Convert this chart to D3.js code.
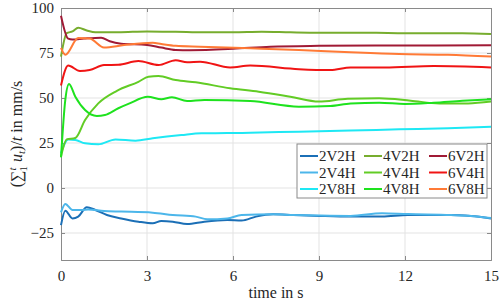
<!DOCTYPE html>
<html><head><meta charset="utf-8">
<script src="https://cdn.jsdelivr.net/npm/d3@7"></script>
<style>body{margin:0;background:#fff;}</style>
</head><body><svg id="c" width="500" height="303" font-family="Liberation Serif"></svg>
<script>
const seriesNames = ["2V2H","2V4H","2V8H","4V2H","4V4H","4V8H","6V2H","6V4H","6V8H"];
const seriesColors = ["#1b6fb6","#4cb6ea","#1ee8f4","#77ad2e","#62cc25","#1ee21e","#a01a35","#f01414","#ff7a36"];
const xTicks = [0,3,6,9,12,15];
const yTicks = [-25,0,25,50,75,100];

const s2V2H = [[0,-20.6],[0.15,-12.6],[0.4,-16.9],[0.6,-15.9],[0.9,-10.7],[1.2,-12.2],[1.6,-15],[2.1,-16.9],[2.7,-18.7],[3.2,-19.6],[3.5,-18.3],[3.9,-18.7],[4.4,-20],[5,-18.7],[5.8,-17.8],[6.3,-18.1],[6.8,-15.9],[7.4,-14.6],[8.1,-15],[9,-15.5],[10.1,-15.9],[11.2,-15.9],[12.1,-15],[13.6,-15],[14.3,-15.6],[15,-16.9]];
const s2V4H = [[0,-13.5],[0.15,-8.9],[0.4,-12.2],[0.73,-12.2],[0.95,-11.9],[1.5,-12.8],[2.1,-13.1],[3.2,-13.7],[3.9,-15],[4.7,-15.9],[5.1,-17.4],[5.8,-16.9],[6.3,-15],[7.4,-14.6],[8.1,-15],[9,-15.3],[10.1,-15.5],[11.2,-14],[12.1,-14.5],[13.6,-15],[14.3,-15.5],[15,-16.7]];
const s2V8H = [[0,19.4],[0.25,27],[0.5,26.7],[0.84,24.8],[1.3,24.3],[1.9,27],[2.6,26.3],[3.2,27.6],[4.2,29.4],[4.9,30.4],[5.8,30.5],[6.6,30.7],[8.3,31.3],[10.1,31.9],[11.8,32.6],[13.5,33.2],[15,34]];
const s4V2H = [[0,73],[0.2,86],[0.4,87],[0.6,89],[0.9,87.5],[1.2,86.5],[2,86.5],[3,87],[4,86.8],[5,86.5],[6,86.5],[7,86.8],[8,86.5],[9,86.3],[10,86.3],[11,86.2],[12,86],[13,86],[14,86],[15,85.5]];
const s4V4H = [[0,17.4],[0.2,27],[0.5,27.8],[0.84,37.8],[1.3,47],[1.95,54],[2.7,59],[3.05,61.8],[3.4,62.2],[4,60],[4.7,58.7],[5.9,55.4],[6.9,53.5],[8,50.7],[9,48],[10,49.6],[11.1,49.8],[12.2,48.5],[13.2,47],[14.2,47],[15,48]];
const s4V8H = [[0,17],[0.15,49],[0.28,57.8],[0.5,50.7],[0.84,43.3],[1.25,40],[1.53,40.5],[2,44.3],[2.35,46.7],[3.03,50.7],[3.5,49.3],[3.87,50.4],[4.4,48.3],[5,48.9],[6.6,48.3],[8.3,45.2],[9.4,45.6],[10.1,47],[11.1,47.4],[12,46.7],[13,47.4],[14,48.5],[15,49.3]];
const s6V2H = [[0,95.7],[0.25,83],[0.4,82.5],[0.8,83],[1.4,83.5],[1.7,81.5],[2.1,80.2],[3,79.5],[3.5,78],[4,76.7],[4.5,76.5],[6,77.3],[7.3,78.5],[9,79],[11,79.2],[13,79.2],[15,79.3]];
const s6V8H = [[0,77.8],[0.15,74],[0.6,83.3],[1,83],[1.5,78],[2.2,79.4],[3.2,80.7],[3.5,80],[4,79],[4.85,78.5],[6.6,77.6],[8.3,76.7],[10.1,75.4],[11.8,74.4],[13.5,74],[15,73]];
const s6V4H = [[0,57],[0.25,68],[0.66,65],[1,65.5],[1.5,68.3],[2,68.5],[2.7,70.5],[3.4,68.3],[4,71],[4.4,69.8],[4.85,70.2],[5.9,67],[6.6,68],[8.3,66],[9.4,65.5],[10.1,67],[11.3,67],[13,67.8],[15,67]];
const seriesData = [s2V2H,s2V4H,s2V8H,s4V2H,s4V4H,s4V8H,s6V2H,s6V4H,s6V8H];

const FONT = "Liberation Serif";
const svg = d3.select("#c");
const L=61,R=491,T=8,B=260;
const x = d3.scaleLinear().domain([0,15]).range([L,R]);
const y = d3.scaleLinear().domain([-40,100]).range([B,T]);
const tc = "#262626";

svg.append("g").selectAll("line").data(xTicks.slice(1,-1)).join("line")
  .attr("x1",d=>x(d)).attr("x2",d=>x(d)).attr("y1",T).attr("y2",B)
  .attr("stroke","#e3e3e3").attr("stroke-width",1);
svg.append("g").selectAll("line").data(yTicks.slice(0,-1)).join("line")
  .attr("y1",d=>y(d)).attr("y2",d=>y(d)).attr("x1",L).attr("x2",R)
  .attr("stroke","#e3e3e3").attr("stroke-width",1);

const xa = svg.append("g").attr("transform",`translate(0,${B})`)
  .call(d3.axisBottom(x).tickValues(xTicks).tickSize(-4).tickPadding(10));
const xt = svg.append("g").attr("transform",`translate(0,${T})`)
  .call(d3.axisTop(x).tickValues(xTicks).tickSize(-4).tickFormat(""));
const ya = svg.append("g").attr("transform",`translate(${L},0)`)
  .call(d3.axisLeft(y).tickValues(yTicks).tickSize(-4).tickPadding(7));
const yr = svg.append("g").attr("transform",`translate(${R},0)`)
  .call(d3.axisRight(y).tickValues(yTicks).tickSize(-4).tickFormat(""));
[xa,xt,ya,yr].forEach(g=>{
  g.attr("font-family",FONT).attr("font-size",15);
  g.select(".domain").attr("stroke","#8a8a8a").attr("stroke-width",1);
  g.selectAll(".tick line").attr("stroke","#8a8a8a");
  g.selectAll("text").attr("fill",tc).attr("font-size",15).attr("font-family",FONT);
});

const line = d3.line().x(d=>x(d[0])).y(d=>y(d[1])).curve(d3.curveMonotoneX);
svg.append("g").selectAll("path").data(seriesData).join("path")
  .attr("d",line).attr("fill","none")
  .attr("stroke",(d,i)=>seriesColors[i]).attr("stroke-width",2)
  .attr("stroke-linejoin","round");

const lg = svg.append("g");
lg.append("rect").attr("x",297).attr("y",144).attr("width",190).attr("height",54)
  .attr("fill","#fff").attr("stroke","#8a8a8a").attr("stroke-width",1);
const colX = [300,364,429];
const rowY = [156,172.5,189];
seriesNames.forEach((n,i)=>{
  const c = Math.floor(i/3), r = i%3;
  lg.append("line").attr("x1",colX[c]).attr("x2",colX[c]+18).attr("y1",rowY[r]).attr("y2",rowY[r])
    .attr("stroke",seriesColors[i]).attr("stroke-width",2);
  lg.append("text").attr("x",colX[c]+19).attr("y",rowY[r]).attr("dy","0.35em")
    .attr("font-size",15).attr("font-family",FONT).attr("fill",tc).text(n);
});

svg.append("text").attr("x",(L+R)/2).attr("y",298).attr("text-anchor","middle")
  .attr("font-family",FONT).attr("font-size",16).attr("fill",tc).text("time in s");
const yl = svg.append("text").attr("transform",`translate(22,${(T+B)/2}) rotate(-90)`)
  .attr("text-anchor","middle").attr("font-family",FONT).attr("font-size",16).attr("fill",tc);
yl.append("tspan").text("(∑");
yl.append("tspan").attr("font-size",11).attr("font-style","italic").attr("dy",-6).text("t");
yl.append("tspan").attr("font-size",11).attr("dx",-4).attr("dy",11).text("1");
yl.append("tspan").attr("font-style","italic").attr("dy",-5).text(" u");
yl.append("tspan").attr("font-size",11).attr("font-style","italic").attr("dy",3).text("t");
yl.append("tspan").attr("dy",-3).text(")/");
yl.append("tspan").attr("font-style","italic").text("t");
yl.append("tspan").text(" in mm/s");
</script></body></html>
